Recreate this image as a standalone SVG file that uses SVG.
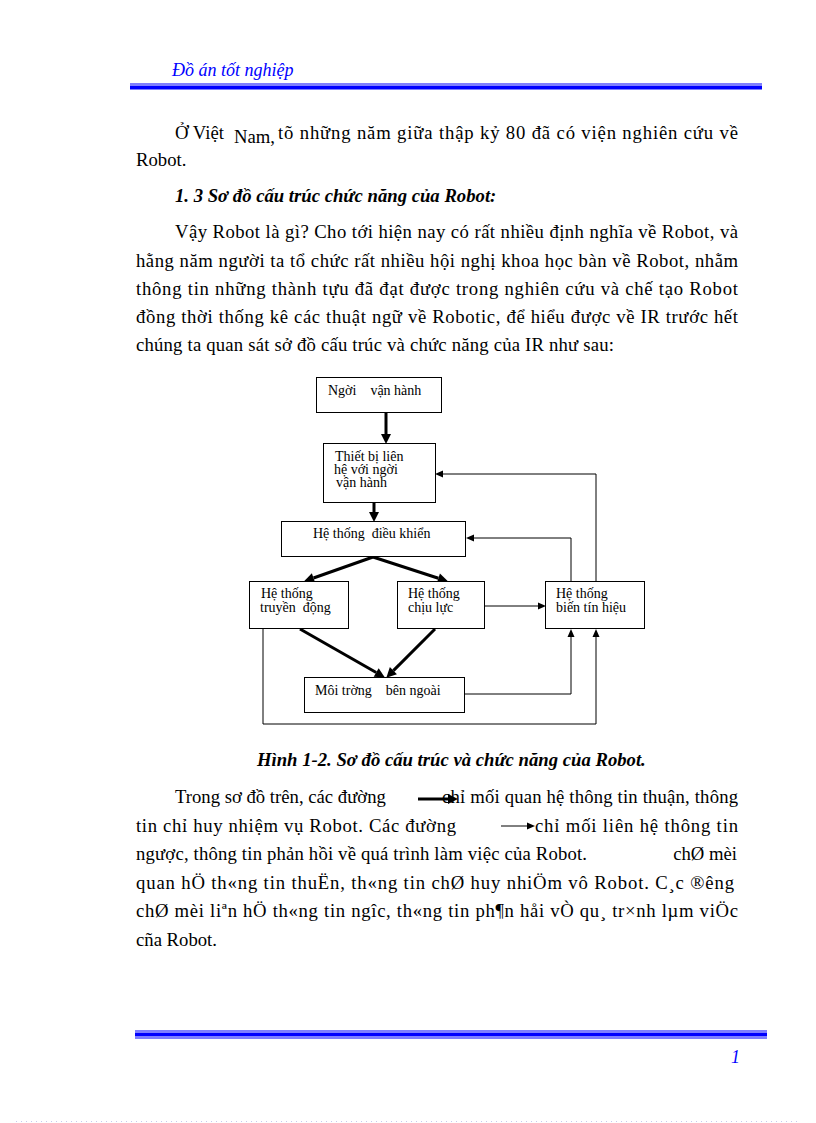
<svg xmlns="http://www.w3.org/2000/svg" width="816" height="1123" viewBox="0 0 816 1123">
<style>
.b{font-family:"Liberation Serif","Times New Roman",serif;font-size:18.7px;fill:#000}
.bi{font-family:"Liberation Serif","Times New Roman",serif;font-size:18.7px;font-weight:bold;font-style:italic;fill:#000}
.hd{font-family:"Liberation Serif","Times New Roman",serif;font-size:18px;font-style:italic;fill:#0000ff}
.bx{fill:#fff;stroke:#000;stroke-width:1}
.t{font-family:"Liberation Serif","Times New Roman",serif;font-size:14px;fill:#000;white-space:pre}
.thick{stroke:#000;stroke-width:3;fill:none}
.thin{stroke:#000;stroke-width:1;fill:none}
</style>
<defs>
<marker id="ah" markerUnits="userSpaceOnUse" markerWidth="12" markerHeight="12" refX="0" refY="0" orient="auto" overflow="visible"><path d="M0,-5 L10,0 L0,5 z" fill="#000"/></marker>
<marker id="at" markerUnits="userSpaceOnUse" markerWidth="10" markerHeight="10" refX="0" refY="0" orient="auto" overflow="visible"><path d="M0,-3.5 L8,0 L0,3.5 z" fill="#000"/></marker>
</defs>
<rect width="816" height="1123" fill="#fff"/>
<g id="header">
<text class="hd" x="172" y="76">Đồ án tốt nghiệp</text>
<rect x="130" y="83.5" width="632" height="1" fill="#0000ff"/>
<rect x="130" y="85.5" width="632" height="4" fill="#0000ff"/>
</g>
<g id="body-top">
<text class="b" x="175" y="139">Ở Việt</text>
<text class="b" x="234" y="143">Nam,</text>
<text class="b" x="278" y="139" textLength="460" lengthAdjust="spacing">tõ những năm giữa thập kỷ 80 đã có viện nghiên cứu về</text>
<text class="b" x="136" y="166">Robot.</text>
<text class="bi" x="175" y="202">1. 3 Sơ đồ cấu trúc chức năng của Robot:</text>
<text class="b" x="175" y="238" textLength="563" lengthAdjust="spacing">Vậy Robot là gì? Cho tới hiện nay có rất nhiều định nghĩa về Robot, và</text>
<text class="b" x="136" y="266.5" textLength="602" lengthAdjust="spacing">hằng năm người ta tổ chức rất nhiều hội nghị khoa học bàn về Robot, nhằm</text>
<text class="b" x="136" y="295" textLength="602" lengthAdjust="spacing">thông tin những thành tựu đã đạt được trong nghiên cứu và chế tạo Robot</text>
<text class="b" x="136" y="323" textLength="602" lengthAdjust="spacing">đồng thời thống kê các thuật ngữ về Robotic, để hiểu được về IR trước hết</text>
<text class="b" x="136" y="351" textLength="478" lengthAdjust="spacing">chúng ta quan sát sở đồ cấu trúc và chức năng của IR như sau:</text>
</g>
<g id="connectors">
<path class="thick" d="M386,413 L386,434" marker-end="url(#ah)"/>
<path class="thick" d="M374,503 L374,512" marker-end="url(#ah)"/>
<path class="thick" d="M373,557 L313.5,578" marker-end="url(#ah)"/>
<path class="thick" d="M373,557 L438.4,578.2" marker-end="url(#ah)"/>
<path class="thick" d="M300,629 L376.2,672.5" marker-end="url(#ah)"/>
<path class="thick" d="M435,629 L393.4,670.6" marker-end="url(#ah)"/>
<path class="thin" d="M485,606 L538,606" marker-end="url(#at)"/>
<path class="thin" d="M465,694 L571,694 L571,637" marker-end="url(#at)"/>
<path class="thin" d="M263,629 L263,724 L596,724 L596,637" marker-end="url(#at)"/>
<path class="thin" d="M571,581 L571,538 L474,538" marker-end="url(#at)"/>
<path class="thin" d="M596,581 L596,474 L443,474" marker-end="url(#at)"/>
</g>
<g id="n1"><rect class="bx" x="316.5" y="377.5" width="125" height="35"/><text class="t" x="328" y="395">Ngời    vận hành</text></g>
<g id="n2"><rect class="bx" x="323.5" y="443.5" width="112" height="59"/><text class="t" x="335" y="461">Thiết bị liên</text><text class="t" x="334" y="474">hệ với ngời</text><text class="t" x="336" y="487">vận hành</text></g>
<g id="n3"><rect class="bx" x="281.5" y="521.5" width="184" height="35"/><text class="t" x="313" y="538">Hệ thống  điều khiển</text></g>
<g id="n4"><rect class="bx" x="249.5" y="581.5" width="99" height="47"/><text class="t" x="261" y="598">Hệ thống</text><text class="t" x="260" y="612">truyền  động</text></g>
<g id="n5"><rect class="bx" x="397.5" y="581.5" width="87" height="47"/><text class="t" x="408" y="598">Hệ thống</text><text class="t" x="408" y="612">chịu lực</text></g>
<g id="n6"><rect class="bx" x="545.5" y="581.5" width="99" height="47"/><text class="t" x="556" y="598">Hệ thống</text><text class="t" x="556" y="612">biến tín hiệu</text></g>
<g id="n7"><rect class="bx" x="304.5" y="677.5" width="160" height="35"/><text class="t" x="315" y="695">Môi trờng    bên ngoài</text></g>
<g id="body-bottom">
<text class="bi" x="257" y="766">Hình 1-2. Sơ đồ cấu trúc và chức năng của Robot.</text>
<text class="b" x="175" y="803">Trong sơ đồ trên, các đường</text>
<path class="thick" d="M418,799 L448,799" marker-end="url(#ah)"/>
<text class="b" x="442" y="803" textLength="296" lengthAdjust="spacing">chỉ mối quan hệ thông tin thuận, thông</text>
<text class="b" x="136" y="831.5" textLength="320" lengthAdjust="spacing">tin chỉ huy nhiệm vụ Robot. Các đường</text>
<path class="thin" d="M501,826 L527,826" marker-end="url(#at)"/>
<text class="b" x="535" y="831.5" textLength="203" lengthAdjust="spacing">chỉ mối liên hệ thông tin</text>
<text class="b" x="136" y="860" textLength="451" lengthAdjust="spacing">ngược, thông tin phản hồi về quá trình làm việc của Robot.</text>
<text class="b" x="737" y="860" text-anchor="end">chØ mèi</text>
<text class="b" x="136" y="888.5" textLength="598" lengthAdjust="spacing">quan hÖ th«ng tin thuËn, th«ng tin chØ huy nhiÖm vô Robot. C¸c ®êng</text>
<text class="b" x="136" y="917" textLength="602" lengthAdjust="spacing">chØ mèi liªn hÖ th«ng tin ngîc, th«ng tin ph¶n håi vÒ qu¸ tr×nh lµm viÖc</text>
<text class="b" x="136" y="945.5">cña Robot.</text>
</g>
<g id="footer">
<rect x="135" y="1030.5" width="632" height="1" fill="#0000ff"/>
<rect x="135" y="1032.5" width="632" height="4" fill="#0000ff"/>
<rect x="135" y="1037.5" width="632" height="1" fill="#0000ff"/>
<text class="hd" x="731" y="1063">1</text>
<line x1="16" y1="1121.5" x2="800" y2="1121.5" stroke="#c8c8f0" stroke-width="1" stroke-dasharray="1,4"/>
</g>
</svg>
